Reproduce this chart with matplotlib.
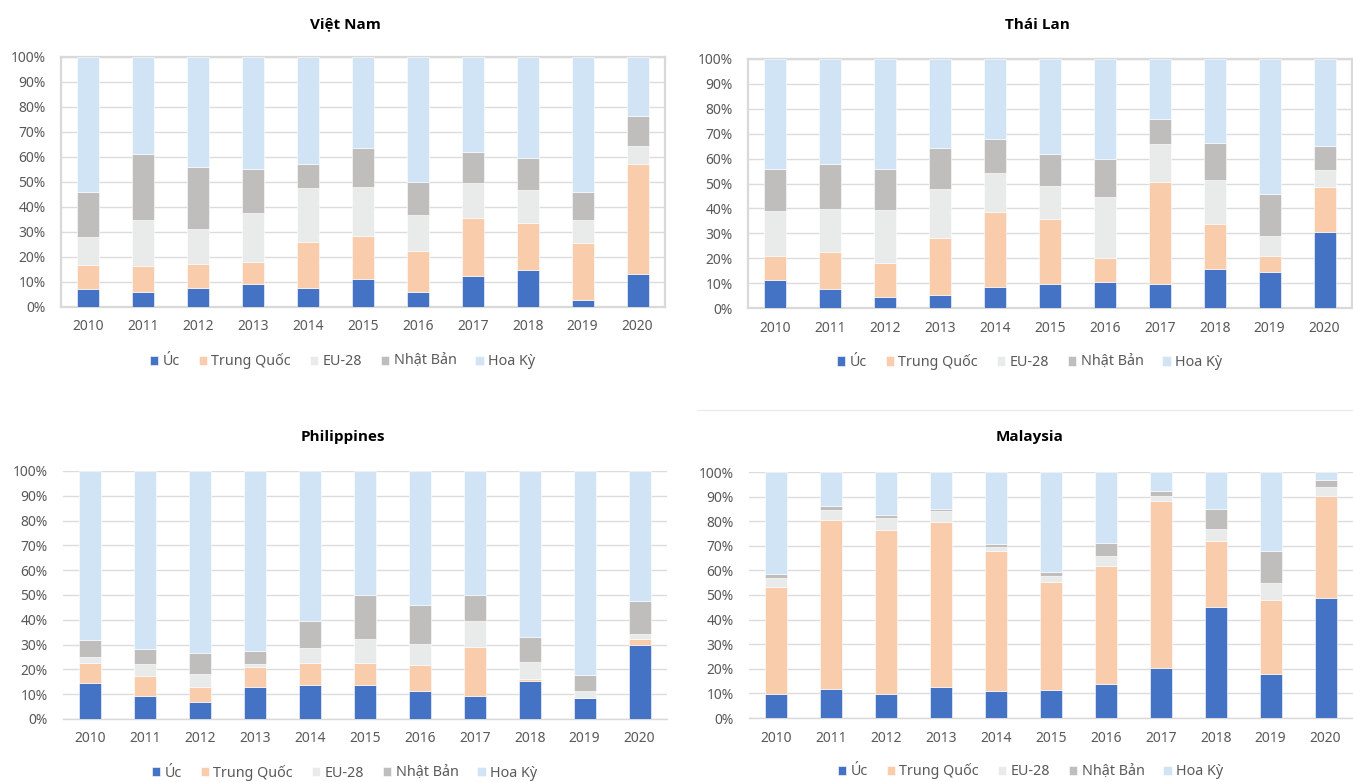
import matplotlib
matplotlib.use("Agg")
import matplotlib.pyplot as plt
from matplotlib.lines import Line2D
import numpy as np

plt.rcParams['font.family'] = ['Noto Sans', 'DejaVu Sans']

years = ['2010', '2011', '2012', '2013', '2014', '2015',
         '2016', '2017', '2018', '2019', '2020']
series = ['Úc', 'Trung Quốc', 'EU-28', 'Nhật Bản', 'Hoa Kỳ']
colors = ['#4472c4', '#f9cdac', '#e9eaea', '#c0bdbd', '#d0e4f5']

# share of each partner (%), one list per series
vn_uc = [7.2, 6.0, 7.7, 9.2, 7.5, 11.1, 5.9, 12.5, 14.7, 2.8, 13.3]
vn_tq = [9.7, 10.5, 9.6, 8.9, 18.4, 17.4, 16.4, 23.2, 19.0, 22.7, 43.8]
vn_eu = [11.2, 18.3, 13.9, 19.6, 21.8, 19.5, 14.5, 14.0, 13.1, 9.2, 7.3]
vn_nb = [18.0, 26.5, 24.7, 17.4, 9.6, 15.7, 13.3, 12.4, 12.9, 11.2, 11.9]
vn_hk = [53.9, 38.7, 44.1, 44.9, 42.7, 36.3, 49.9, 37.9, 40.3, 54.1, 23.7]

th_uc = [11.1, 7.5, 4.6, 5.3, 8.6, 9.6, 10.6, 9.8, 15.6, 14.6, 30.5]
th_tq = [9.7, 15.0, 13.3, 23.0, 29.8, 26.1, 9.6, 40.9, 18.2, 6.2, 18.0]
th_eu = [18.1, 17.3, 21.5, 19.5, 15.9, 13.2, 24.5, 15.2, 17.7, 8.3, 6.9]
th_nb = [17.0, 18.0, 16.5, 16.6, 13.4, 13.1, 15.3, 10.2, 14.7, 16.7, 9.8]
th_hk = [44.1, 42.2, 44.1, 35.6, 32.3, 38.0, 40.0, 23.9, 33.8, 54.2, 34.8]

ph_uc = [14.4, 9.3, 6.8, 12.8, 13.8, 13.8, 11.3, 9.3, 15.4, 8.3, 29.7]
ph_tq = [8.3, 8.1, 6.1, 8.3, 8.9, 8.9, 10.6, 19.8, 0.8, 0.3, 2.6]
ph_eu = [2.5, 4.9, 5.4, 1.0, 5.9, 9.6, 8.3, 10.5, 6.9, 2.5, 2.1]
ph_nb = [6.7, 6.0, 8.5, 5.4, 11.0, 17.8, 15.8, 10.5, 9.8, 6.8, 13.3]
ph_hk = [68.1, 71.7, 73.2, 72.5, 60.4, 49.9, 54.0, 49.9, 67.1, 82.1, 52.3]

my_uc = [9.9, 11.7, 9.6, 12.5, 10.8, 11.2, 13.7, 20.3, 45.3, 17.9, 48.9]
my_tq = [43.4, 68.9, 66.8, 67.2, 57.1, 44.1, 48.1, 67.9, 26.6, 30.1, 41.3]
my_eu = [3.6, 3.8, 5.0, 4.4, 1.7, 2.3, 4.2, 2.2, 4.9, 7.0, 3.8]
my_nb = [1.6, 1.8, 1.1, 1.0, 1.1, 1.7, 5.1, 1.9, 8.3, 12.9, 2.7]
my_hk = [41.5, 13.8, 17.5, 14.9, 29.3, 40.7, 28.9, 7.7, 14.9, 32.1, 3.3]

W, H = 1353, 782
fig = plt.figure(figsize=(W / 100, H / 100), dpi=100)
fig.patch.set_facecolor('white')


def px_axes(left, top, right, bottom):
    return fig.add_axes([left / W, 1 - bottom / H, (right - left) / W, (bottom - top) / H])


def draw_panel(ax, title, title_xy, data, boxed):
    x = np.arange(len(years))
    base = np.zeros(len(years))
    for vals, name, c in zip(data, series, colors):
        ax.bar(x, vals, 0.4, bottom=base, color=c, label=name,
               edgecolor='white', linewidth=0.4, zorder=3)
        base += np.array(vals)
    ax.set_xlim(-0.5, len(years) - 0.5)
    ax.set_ylim(0, 100)
    ax.set_yticks(np.arange(0, 101, 10))
    ax.set_yticklabels([f'{v}%' for v in range(0, 101, 10)])
    ax.set_xticks(x)
    ax.set_xticklabels(years)
    ax.tick_params(axis='both', length=0, labelsize=10, labelcolor='#595959')
    ax.tick_params(axis='x', pad=9)
    ax.tick_params(axis='y', pad=11)
    ax.grid(axis='y', color='#dcdcdc', linewidth=1, zorder=0)
    for side, sp in ax.spines.items():
        if boxed:
            sp.set_color('#d9d9d9')
            sp.set_linewidth(1.6)
        elif side == 'bottom':
            sp.set_color('#d9d9d9')
            sp.set_linewidth(1)
        else:
            sp.set_visible(False)
    fig.text(title_xy[0] / W, 1 - title_xy[1] / H, title, ha='center', va='center',
             fontsize=11, fontweight='bold', color='black',
             family=['Open Sans', 'DejaVu Sans'])
    ax.legend(loc='center', bbox_to_anchor=(0.466, -0.217), ncol=5, frameon=False,
              fontsize=10.3, labelcolor='#595959', handlelength=0.6, handleheight=0.6,
              handletextpad=0.3, columnspacing=1.3)


ax1 = px_axes(61, 57, 665, 307)
draw_panel(ax1, 'Việt Nam', (345, 24), [vn_uc, vn_tq, vn_eu, vn_nb, vn_hk], True)

ax2 = px_axes(748, 59, 1352, 308)
draw_panel(ax2, 'Thái Lan', (1037, 25), [th_uc, th_tq, th_eu, th_nb, th_hk], True)

ax3 = px_axes(63, 471, 667, 719)
draw_panel(ax3, 'Philippines', (343, 437), [ph_uc, ph_tq, ph_eu, ph_nb, ph_hk], False)

ax4 = px_axes(749, 472, 1353, 718)
draw_panel(ax4, 'Malaysia', (1030, 437), [my_uc, my_tq, my_eu, my_nb, my_hk], False)

# thin separator above the Malaysia panel
fig.add_artist(Line2D([697 / W, 1], [1 - 410 / H, 1 - 410 / H], color='#ececec', linewidth=1))

fig.savefig('out.png', dpi=100, facecolor='white')
